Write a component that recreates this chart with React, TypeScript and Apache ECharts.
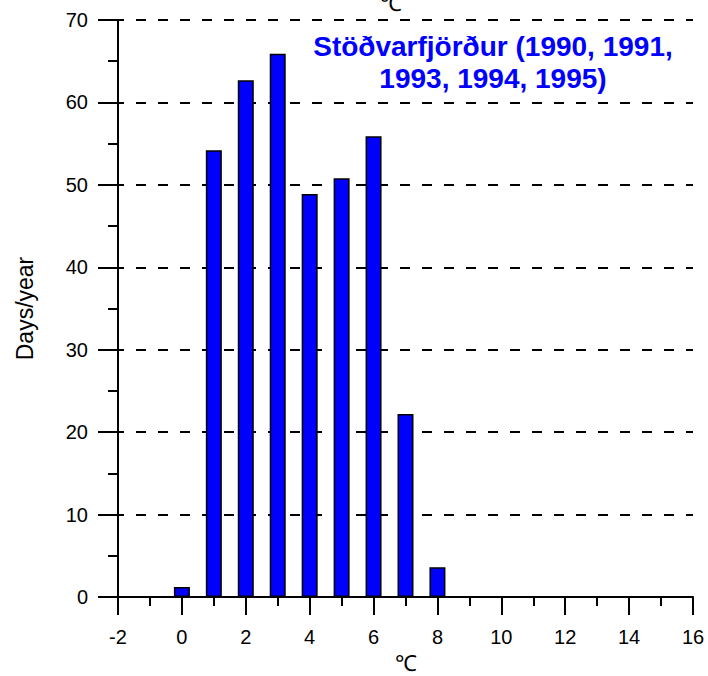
import React, { useEffect, useRef } from "react";
import * as echarts from "echarts";

const temps = [0, 1, 2, 3, 4, 5, 6, 7, 8];
const days = [1.2, 54.2, 62.7, 65.9, 48.9, 50.8, 55.9, 22.2, 3.6];
const xTickLabels = ["-2", "0", "2", "4", "6", "8", "10", "12", "14", "16"];
const yTickLabels = ["0", "10", "20", "30", "40", "50", "60", "70"];
const stationText = "Stöðvarfjörður (1990, 1991,\n1993, 1994, 1995)";
const unitTitle = "℃";
const yTitle = "Days/year";

const FONT = "Arial";

export default function App() {
  const ref = useRef<HTMLDivElement>(null);
  useEffect(() => {
    if (!ref.current) return;
    const chart = echarts.init(ref.current, null, { renderer: "svg" });
    const data = temps.map((t, i) => [t, days[i]]);
    chart.setOption({
      animation: false,
      backgroundColor: "#fff",
      textStyle: { fontFamily: FONT },
      grid: {
        left: 118,
        right: 15,
        top: 20,
        bottom: 79,
        containLabel: false,
        outerBoundsMode: "none",
      },
      xAxis: {
        type: "value",
        min: -2,
        max: 16,
        interval: 2,
        name: unitTitle,
        nameLocation: "middle",
        nameGap: 55,
        nameTextStyle: { color: "#000", fontSize: 22, fontFamily: FONT },
        axisLine: { show: true, onZero: false, lineStyle: { color: "#000", width: 2 } },
        axisTick: { show: true, length: 18, lineStyle: { color: "#000", width: 2 } },
        minorTick: { show: true, splitNumber: 2, length: 9, lineStyle: { color: "#000", width: 2 } },
        axisLabel: {
          color: "#000",
          fontSize: 20,
          fontFamily: FONT,
          margin: 30,
          formatter: (v: number) => {
            const idx = xTickLabels.indexOf(String(v));
            return idx >= 0 ? xTickLabels[idx] : "";
          },
        },
        splitLine: { show: false },
      },
      yAxis: [
        {
          type: "value",
          min: 0,
          max: 70,
          interval: 10,
          name: yTitle,
          nameLocation: "middle",
          nameGap: 82,
          nameTextStyle: { color: "#000", fontSize: 23, fontFamily: FONT },
          axisLine: { show: true, onZero: false, lineStyle: { color: "#000", width: 2 } },
          axisTick: { show: true, length: 20, lineStyle: { color: "#000", width: 2 } },
          minorTick: { show: true, splitNumber: 2, length: 10, lineStyle: { color: "#000", width: 2 } },
          axisLabel: {
            color: "#000",
            fontSize: 20,
            fontFamily: FONT,
            margin: 30,
            formatter: (v: number) => {
              const idx = yTickLabels.indexOf(String(v));
              return idx >= 0 ? yTickLabels[idx] : "";
            },
          },
          splitLine: {
            show: true,
            lineStyle: { color: "#000", width: 2, type: [10, 12], dashOffset: 4 },
          },
        },
        {
          type: "value",
          min: 0,
          max: 70,
          interval: 10,
          position: "left",
          axisLine: { show: false, onZero: false },
          axisTick: { show: true, inside: true, length: 5, lineStyle: { color: "#000", width: 2 } },
          axisLabel: { show: false },
          splitLine: { show: false },
        },
      ],
      graphic: [
        {
          type: "text",
          x: 391,
          y: -8,
          style: { text: unitTitle, fontSize: 22, fontFamily: FONT, fill: "#000", align: "center", verticalAlign: "top" },
        },
        {
          type: "text",
          x: 493,
          y: 62,
          style: {
            text: stationText,
            fontSize: 28,
            fontWeight: "bold",
            fontFamily: FONT,
            fill: "#0000FF",
            align: "center",
            verticalAlign: "middle",
            lineHeight: 32,
          },
        },
      ],
      series: [
        {
          type: "bar",
          data,
          barWidth: 16,
          yAxisIndex: 0,
          itemStyle: { color: "#0000FF", borderColor: "#000", borderWidth: 1.5 },
        },
      ],
    });
    return () => chart.dispose();
  }, []);
  return (
    <div
      ref={ref}
      style={{ position: "fixed", left: 0, top: 0, width: 708, height: 676 }}
    />
  );
}
